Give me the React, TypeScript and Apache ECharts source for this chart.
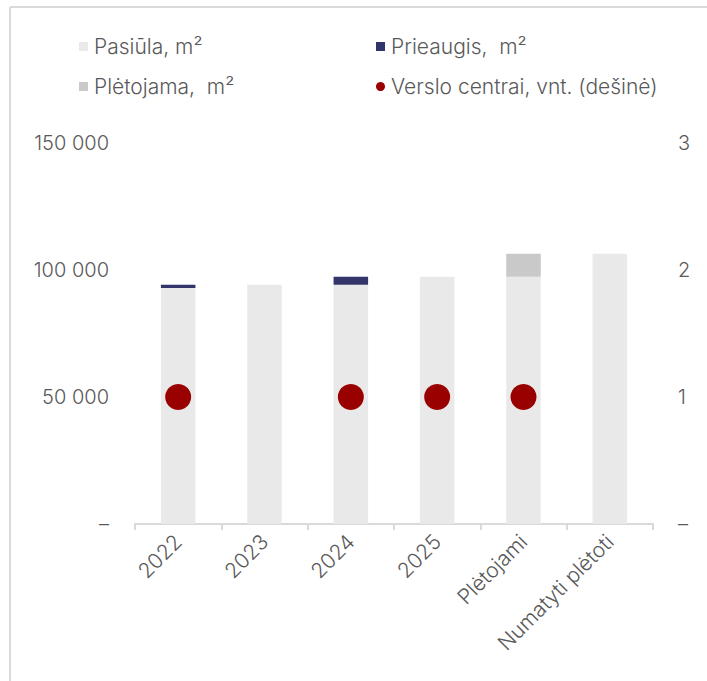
import React, { useEffect, useRef } from "react";
import * as echarts from "echarts";

const categories = ["2022", "2023", "2024", "2025", "Plėtojami", "Numatyti plėtoti"];
const supply = [92900, 94200, 94200, 97300, 97300, 106400];
const increase = [1300, null, 3100, null, null, null];
const developing = [null, null, null, null, 9100, null];
const centres = [1, null, 1, 1, 1, null];
const leftTicks = { min: 0, max: 150000, interval: 50000 };
const rightTicks = { min: 0, max: 3, interval: 1 };

const FONT = "Inter";
const TEXT = "#595959";
const FW = 300;

function fmtThousands(v: number): string {
  if (v === 0) return "–";
  return String(v).replace(/\B(?=(\d{3})+(?!\d))/g, " ");
}

export default function App() {
  const ref = useRef<HTMLDivElement>(null);
  useEffect(() => {
    const chart = echarts.init(ref.current!, null, { renderer: "svg" });
    const legendText = { fontFamily: FONT, fontSize: 21, fontWeight: FW, color: TEXT, padding: [0, 0, 0, 1] };
    chart.setOption({
      animation: false,
      backgroundColor: "#ffffff",
      textStyle: { fontFamily: FONT },
      graphic: [
        { type: "line", shape: { x1: 10, y1: 7, x2: 707, y2: 7 }, style: { stroke: "#DADADA", lineWidth: 2 } },
        { type: "line", shape: { x1: 10, y1: 7, x2: 10, y2: 681 }, style: { stroke: "#DADADA", lineWidth: 2 } },
      ],
      legend: [
        {
          left: 74,
          top: 31,
          orient: "vertical",
          itemGap: 19,
          itemWidth: 9,
          itemHeight: 9,
          textStyle: legendText,
          data: [
            { name: "Pasiūla, m²", icon: "rect" },
            { name: "Plėtojama,  m²", icon: "rect" },
          ],
        },
        {
          left: 371,
          top: 31,
          orient: "vertical",
          itemGap: 19,
          itemWidth: 9,
          itemHeight: 9,
          textStyle: legendText,
          data: [
            { name: "Prieaugis,  m²", icon: "rect" },
            { name: "Verslo centrai, vnt. (dešinė)", icon: "circle" },
          ],
        },
      ],
      grid: { left: 135, right: 54, top: 143, bottom: 157, containLabel: false },
      xAxis: {
        type: "category",
        data: categories,
        axisLine: { show: true, lineStyle: { color: "#D9D9D9", width: 2 } },
        axisTick: { show: true, length: 6, lineStyle: { color: "#D9D9D9", width: 2 } },
        axisLabel: { rotate: 45, margin: 14, fontFamily: FONT, fontSize: 21, fontWeight: FW, color: TEXT, interval: 0 },
      },
      yAxis: [
        {
          type: "value",
          ...leftTicks,
          axisLine: { show: false },
          axisTick: { show: false },
          splitLine: { show: false },
          axisLabel: { margin: 26, fontFamily: FONT, fontSize: 20, fontWeight: FW, color: TEXT, formatter: fmtThousands },
        },
        {
          type: "value",
          ...rightTicks,
          position: "right",
          axisLine: { show: false },
          axisTick: { show: false },
          splitLine: { show: false },
          axisLabel: { margin: 25, fontFamily: FONT, fontSize: 20, fontWeight: FW, color: TEXT, formatter: (v: number) => (v === 0 ? "–" : String(v)) },
        },
      ],
      series: [
        { name: "Pasiūla, m²", type: "bar", stack: "a", barWidth: "40%", data: supply, itemStyle: { color: "#E9E9E9" } },
        { name: "Prieaugis,  m²", type: "bar", stack: "a", data: increase, itemStyle: { color: "#32356A" } },
        { name: "Plėtojama,  m²", type: "bar", stack: "a", data: developing, itemStyle: { color: "#C9C9C9" } },
        {
          name: "Verslo centrai, vnt. (dešinė)",
          type: "scatter",
          yAxisIndex: 1,
          symbol: "circle",
          symbolSize: 26,
          data: centres,
          itemStyle: { color: "#990000", opacity: 1 },
          z: 5,
        },
      ],
    });
    return () => chart.dispose();
  }, []);
  return <div ref={ref} style={{ position: "fixed", left: 0, top: 0, width: 707, height: 681 }} />;
}
